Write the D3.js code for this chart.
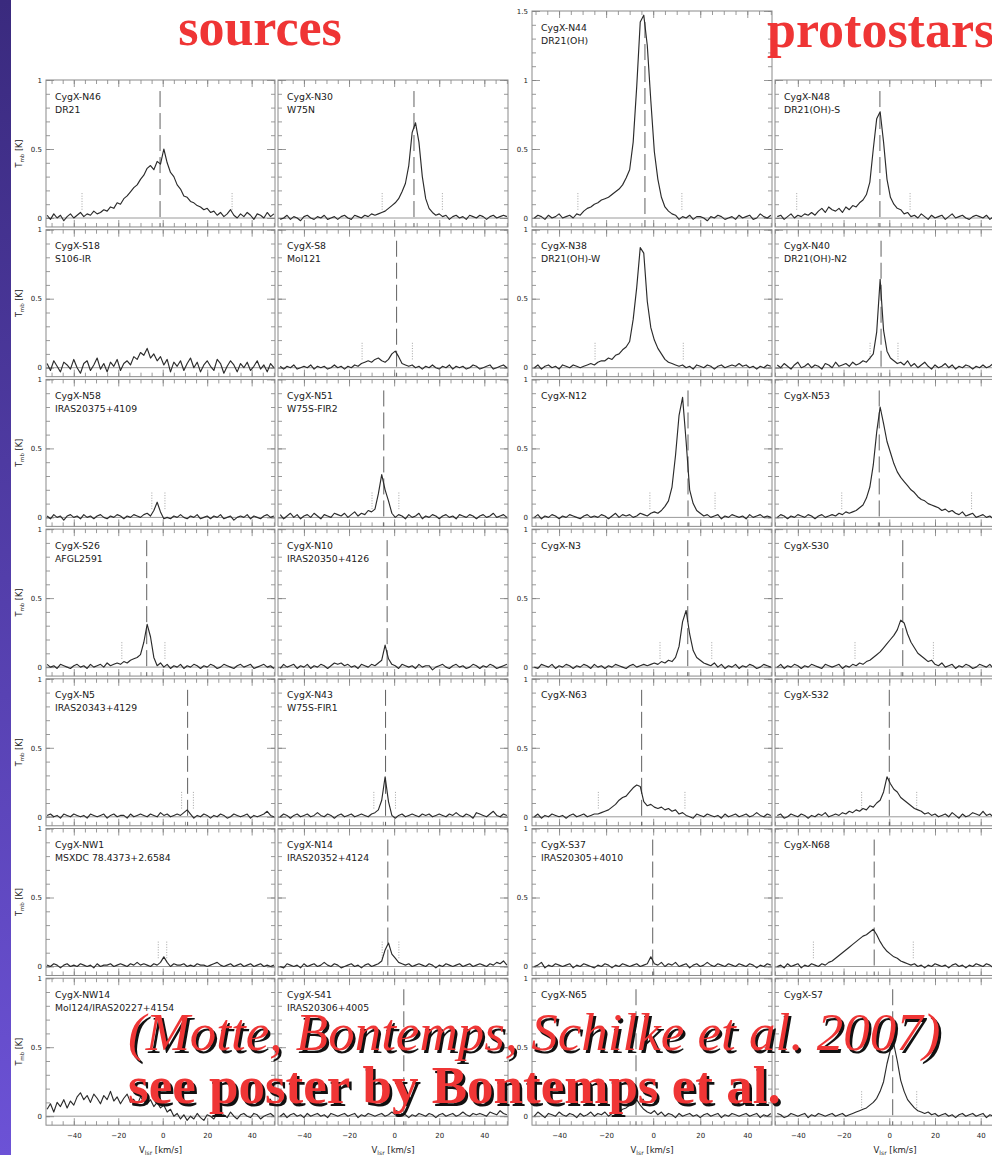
<!DOCTYPE html>
<html>
<head>
<meta charset="utf-8">
<script src="https://cdn.jsdelivr.net/npm/d3@7"></script>
<style>
  body { margin: 0; background: #fff; }
  svg { display: block; }
  .tk .domain, .lbl .domain { display: none; }
  .tk line { stroke: #808080; stroke-width: 0.8; }
  .lbl text { font-family: "DejaVu Sans", sans-serif; font-size: 7px; fill: #222; }
  .frame { fill: none; stroke: #8a8a8a; stroke-width: 1; }
  .zero { stroke: #9a9a9a; stroke-width: 1; }
  .spec { fill: none; stroke: #2b2b2b; stroke-width: 1.15; stroke-linejoin: round; }
  .vsys { stroke: #606060; stroke-width: 1; stroke-dasharray: 16 6; }
  .win { stroke: #9a9a9a; stroke-width: 0.9; stroke-dasharray: 1 1.6; }
  .plabel { font-family: "DejaVu Sans", sans-serif; font-size: 9.3px; fill: #1a1a1a; }
  .atitle { font-family: "DejaVu Sans", sans-serif; font-size: 8px; fill: #222; }
  .head { font-family: "Liberation Serif", "Times New Roman", serif; font-weight: bold; font-size: 52px; fill: #ef3535; }
  .cite { font-family: "Liberation Serif", "Times New Roman", serif; font-size: 53px; }
</style>
</head>
<body>
<svg id="chart" width="992" height="1155"></svg>
<script>
// Velocity channels (km/s) shared by every spectrum
const channels = [
  -52,-50.5,-49,-47.5,-46,-44.5,-43,-41.5,-40,-38.5,
  -37,-35.5,-34,-32.5,-31,-29.5,-28,-26.5,-25,-23.5,
  -22,-20.5,-19,-17.5,-16,-14.5,-13,-11.5,-10,-8.5,
  -7,-5.5,-4,-2.5,-1,0.5,2,3.5,5,6.5,
  8,9.5,11,12.5,14,15.5,17,18.5,20,21.5,
  23,24.5,26,27.5,29,30.5,32,33.5,35,36.5,
  38,39.5,41,42.5,44,45.5,47,48.5,50
];

// Main-beam temperatures (K), one value per channel
const N46 = [
  .02,-.01,.03,.00,.02,-.02,.01,.03,.00,.02,
  .04,.01,.03,.02,.05,.03,.04,.06,.05,.08,
  .07,.11,.10,.14,.16,.19,.22,.24,.28,.31,
  .36,.38,.35,.41,.39,.50,.40,.33,.30,.24,
  .21,.16,.15,.12,.11,.09,.08,.06,.07,.04,
  .05,.02,.04,.01,.03,.06,.02,.00,.03,.01,
  .04,.02,-.01,.03,.02,.00,.04,.01,.03];
const S18 = [
  .03,-.02,.05,.01,-.03,.04,.02,-.01,.06,.00,
  -.04,.03,.05,-.02,.02,.07,-.01,.03,-.03,.04,
  .01,.06,-.02,.03,.05,.02,.08,.06,.11,.09,
  .14,.07,.10,.05,.08,.02,.06,-.03,.04,.01,
  .05,-.02,.03,.07,.00,.04,-.03,.02,.05,.01,
  -.02,.06,.03,-.04,.01,.05,.02,-.03,.03,.00,
  .04,-.02,.01,.05,-.01,.02,-.03,.03,.00];
const N58 = [
  .01,-.01,.02,.00,.01,-.02,.01,.02,.00,.01,
  -.01,.02,.00,.01,-.01,.01,.02,.00,-.01,.01,
  .00,.02,.01,-.01,.01,.00,.02,.01,.00,.02,
  .03,.01,.05,.11,.04,-.01,.00,-.01,.01,.00,
  .02,.00,-.01,.01,.00,.02,-.01,.00,.01,-.01,
  .01,.00,.02,-.01,.00,.01,-.02,.00,.01,.00,
  .02,-.01,.01,.00,-.01,.01,.02,.00,.01];
const S26 = [
  .02,.00,.01,-.01,.02,.01,.00,-.01,.01,.02,
  .00,.01,-.01,.02,.00,.01,.02,.00,.03,.01,
  .02,.03,.02,.04,.03,.05,.06,.07,.09,.18,
  .31,.22,.07,.01,.03,.00,.02,-.01,.01,.00,
  .02,-.01,.01,.00,.02,.01,-.01,.01,.00,.02,
  .01,-.01,.00,.02,.01,.00,-.01,.01,.02,.00,
  .01,.02,-.01,.00,.01,.02,.00,.01,-.01];
const N5 = [
  .01,.02,.00,.01,-.01,.02,.01,.00,.02,.01,
  .00,.01,-.01,.02,.01,.00,.01,.02,-.01,.01,
  .02,.00,.01,.01,-.01,.02,.00,.01,.02,.01,
  .00,.02,.01,.00,.03,.01,.02,.00,.01,.02,
  .01,.03,.05,.02,-.01,.01,.00,.02,.01,-.01,
  .01,.00,.02,.01,-.01,.00,.02,.01,.00,.01,
  .02,-.01,.01,.00,.01,.02,.04,.01,.00];
const NW1 = [
  .01,.00,.02,.01,-.01,.01,.02,.00,.01,.00,
  .02,.01,.00,.01,-.01,.02,.00,.01,.01,.02,
  .00,.01,.02,.01,.00,.02,.01,.03,.01,.02,
  .01,.00,.02,.01,.03,.07,.03,.00,.02,.01,
  .01,.02,.00,.01,.00,.02,.01,.01,.00,.01,
  .02,.03,.01,.00,.01,.02,.00,.01,.02,.00,
  .01,.02,.00,.01,.02,.00,.01,.00,.01];
const NW14 = [
  .05,.09,.03,.10,.07,.12,.06,.11,.08,.14,
  .17,.12,.15,.10,.16,.13,.09,.15,.12,.18,
  .11,.14,.09,.13,.16,.10,.12,.08,.14,.11,
  .09,.12,.07,.10,.06,.08,.03,.05,.00,.02,
  -.02,.01,-.03,.00,-.02,.02,-.01,-.03,.01,.00,
  -.02,.02,.00,.01,-.01,.03,.00,-.02,.01,.02,
  .00,-.01,.02,.01,-.02,.00,.01,.02,.00];

const N30 = [
  .01,-.01,.00,.02,-.01,.01,.00,-.02,.01,.02,
  .00,-.01,.01,.00,.02,-.01,.00,.01,-.01,.01,
  .02,.00,-.01,.02,.01,.00,.02,.01,.03,.02,
  .03,.04,.05,.07,.09,.11,.14,.19,.25,.38,
  .62,.69,.55,.30,.14,.07,.04,.02,.03,.01,
  .02,-.01,.01,.02,.00,.01,-.01,.02,.01,.00,
  .02,.01,-.01,.01,.02,.00,.01,.02,.01];
const S8 = [
  .00,.01,-.01,.01,.00,.02,-.01,.00,.01,.00,
  .02,-.01,.01,.00,.01,-.01,.00,.02,.00,.01,
  -.01,.01,.00,.02,.01,.03,.04,.05,.04,.06,
  .07,.05,.04,.06,.10,.12,.08,.03,.02,.01,
  .02,.00,.01,-.01,.01,.00,.02,.00,-.01,.01,
  .00,.02,-.01,.01,.00,.01,-.01,.00,.02,.01,
  -.01,.00,.01,.02,-.01,.00,.01,.02,.00];
const N51 = [
  .01,.02,-.01,.01,.03,.00,.02,-.01,.01,.02,
  .00,.03,.01,-.01,.02,.01,.00,.03,.02,.01,
  .03,.00,.02,.04,.01,.03,.02,.05,.04,.06,
  .17,.31,.20,.12,.03,.00,.02,.01,-.01,.02,
  .00,.01,.03,-.01,.01,.00,.02,.01,-.01,.01,
  .02,.00,.01,-.01,.02,.01,.00,.02,.01,-.01,
  .01,.02,.00,.01,.03,.00,.01,.02,.00];
const N10 = [
  .01,-.01,.02,.00,.01,.02,-.01,.01,.00,.02,
  -.01,.01,.00,.02,.01,-.01,.01,.03,.02,.03,
  .01,.02,.00,.01,-.01,.02,.01,.00,.02,.01,
  .03,.05,.16,.06,.02,.01,-.01,.02,.01,.00,
  .01,-.01,.02,.00,.01,.01,-.02,.00,.01,.02,
  .00,-.01,.01,.02,.00,.01,-.01,.00,.02,.01,
  -.01,.01,.00,.02,.01,-.01,.00,.01,.02];
const N43 = [
  .01,.00,.02,.01,-.01,.01,.02,.00,.01,.02,
  .00,.01,.03,.01,.00,.02,.01,-.01,.01,.02,
  .00,.01,.02,.00,.01,.02,.01,.00,.02,.03,
  .05,.12,.29,.11,.01,-.01,.01,.02,.00,.01,
  .02,.01,.00,.02,.01,.02,.00,.01,.02,.01,
  .00,.02,.01,.03,.01,.00,.02,.01,-.01,.03,
  .02,.01,.00,.02,.04,.01,.00,.02,.01];
const N14 = [
  .01,.00,-.01,.02,.01,.00,.01,-.01,.02,.00,
  .01,.02,.00,.01,.03,.01,.00,.02,.01,-.01,
  .00,.01,.02,.00,.01,-.01,.01,.02,.00,.01,
  .02,.04,.12,.17,.09,.06,.03,.02,.01,.02,
  .00,.01,.02,.01,.00,.02,.01,-.01,.01,.00,
  .02,.01,.00,.01,.02,.00,.01,.02,.00,.01,
  .02,.01,.00,.02,.01,.03,.02,.04,.01];
const S41 = [
  .01,.00,.02,-.01,.01,.02,.00,.01,-.01,.02,
  .00,.01,.02,.00,.01,-.01,.02,.01,.00,.01,
  .02,.00,.01,.02,-.01,.01,.00,.02,.01,.00,
  .01,.02,.00,.01,.03,.01,.00,.02,.01,-.01,
  .01,.00,.02,.01,.00,.02,.01,-.01,.01,.02,
  .00,.01,.02,.00,.01,.03,.01,.00,.02,.01,
  .02,.01,.00,.03,.02,.01,.04,.02,.01];

const N44 = [
  .01,.00,.02,.01,-.01,.02,.00,.01,.03,.00,
  .01,.02,.00,.03,.02,.05,.07,.08,.10,.11,
  .13,.14,.15,.17,.19,.21,.24,.29,.35,.55,
  .95,1.42,1.47,1.25,.85,.48,.28,.15,.08,.05,
  .03,.02,-.01,.01,.00,.02,-.01,.01,.01,.00,
  -.02,.01,.00,.02,.01,-.01,.00,.01,-.01,.02,
  .00,.01,.02,-.01,.00,.03,.01,.00,.02];
const N38 = [
  .01,.00,.02,-.01,.01,.02,.00,.01,-.01,.02,
  .01,.00,.02,.01,.00,.01,.02,.03,.02,.04,
  .05,.05,.07,.06,.09,.10,.13,.15,.19,.35,
  .58,.87,.83,.48,.29,.20,.14,.10,.06,.04,
  .03,.02,.01,.02,.00,.01,-.01,.02,.01,.00,
  .02,.01,-.01,.01,.02,.00,.01,.02,.01,.03,
  .01,.02,.00,.01,-.01,.01,.00,.02,.01];
const N12 = [
  .01,.00,.02,-.01,.01,.00,.02,.01,-.01,.01,
  .00,.02,.01,.00,-.01,.01,.02,.00,.01,.00,
  .02,.01,-.01,.01,.03,.00,.02,.01,.02,.00,
  .01,.03,.02,.01,.03,.04,.03,.05,.08,.12,
  .22,.45,.74,.87,.55,.20,.10,.05,.03,.01,
  .02,.00,.01,.02,-.01,.01,.00,.02,.01,.00,
  .01,-.01,.02,.00,.01,.02,.00,.01,.00];
const N3 = [
  .01,.00,-.01,.02,.01,.00,.02,-.01,.01,.00,
  .02,.01,-.01,.01,.00,.02,.01,-.01,.02,.00,
  .01,-.01,.01,.00,.02,.01,.00,-.01,.01,.02,
  .00,.01,.02,.01,.02,.03,.02,.04,.03,.05,
  .04,.07,.15,.33,.41,.24,.12,.07,.05,.03,
  .02,.01,.03,.00,.02,-.01,.01,.00,.02,-.01,
  .01,.00,.02,.01,-.01,.00,.02,.01,.00];
const N63 = [
  .01,.00,.02,-.01,.01,.00,.02,.01,.00,.01,
  -.01,.01,.02,.00,.01,.02,.00,.01,.02,.02,
  .03,.04,.05,.07,.09,.12,.14,.15,.18,.21,
  .23,.22,.11,.08,.09,.07,.06,.07,.05,.06,
  .04,.05,.02,.03,.01,.00,-.01,.02,.01,.00,
  .02,.01,.00,.01,-.01,.02,.00,.01,.02,.00,
  .01,.02,.00,.01,.03,.01,.00,.02,.01];
const S37 = [
  .02,.00,.01,.03,-.01,.01,.00,.02,.01,.00,
  .01,.02,-.01,.01,.00,.02,.01,.00,-.01,.01,
  .00,.02,.01,-.01,.01,.00,.02,.01,.00,.01,
  .02,.00,.01,.02,.07,.02,.01,.03,.00,.02,
  .01,.03,.00,.01,.02,-.01,.01,.02,.00,.01,
  .03,.01,.00,.02,.01,.00,.02,.01,.00,.02,
  .01,.00,.02,.01,-.01,.01,.00,.02,.01];
const N65 = [
  .02,.00,.03,.01,-.01,.02,.01,.00,.03,.01,
  .00,.02,.01,-.01,.02,.00,.01,.03,.00,.02,
  .01,.03,.00,.02,.04,.03,.05,.06,.08,.10,
  .12,.08,.05,.03,.02,.04,.01,.03,.00,.02,
  .01,-.01,.02,.00,.01,.02,.00,.01,-.01,.01,
  .02,.00,.01,.02,-.01,.01,.00,.02,.01,.00,
  .01,.02,.00,.01,.02,-.01,.01,.00,.02];

const N48 = [
  .00,.01,.01,.02,-.01,.01,.03,.00,.02,.01,
  .03,.02,.04,.02,.05,.07,.04,.08,.06,.05,
  .07,.04,.08,.06,.09,.08,.11,.13,.17,.26,
  .50,.72,.77,.55,.28,.15,.10,.07,.06,.03,
  .04,.01,.02,.00,.03,.01,-.01,.02,.00,.01,
  .02,-.01,.01,.03,.00,.01,.02,.00,-.01,.01,
  .02,.01,.00,.02,-.01,.01,.00,.02,.01];
const N40 = [
  .01,.03,.02,.00,.03,.01,-.01,.02,.04,.00,
  .01,.03,.00,.02,.01,-.01,.03,.02,.00,.04,
  .01,.02,.03,.01,.04,.02,.03,.05,.04,.07,
  .10,.26,.64,.27,.12,.07,.05,.03,.04,.02,
  .05,.01,.03,.00,.02,.04,.01,-.01,.02,.00,
  .01,.03,.00,.02,-.01,.01,.00,.02,.01,-.01,
  .01,.00,.02,.00,.01,.03,-.01,.01,.00];
const N53 = [
  .01,.00,.00,.02,.01,-.01,.01,.00,.02,.01,
  .00,.02,.01,-.01,.01,.02,.00,.01,.02,.01,
  .03,.02,.04,.03,.04,.05,.07,.09,.14,.22,
  .38,.62,.80,.68,.55,.47,.39,.33,.29,.26,
  .23,.20,.18,.15,.13,.12,.10,.09,.08,.07,
  .05,.06,.04,.05,.03,.02,.04,.01,.02,.03,
  .00,.01,.02,.00,.01,-.01,.01,.00,.02];
const S30 = [
  .01,.02,.00,.02,-.01,.01,.00,.02,.01,-.01,
  .01,.00,.02,.01,.00,-.01,.02,.01,.00,.01,
  .02,-.01,.01,.00,.02,.01,.03,.02,.04,.05,
  .07,.09,.11,.14,.17,.20,.23,.27,.34,.32,
  .24,.18,.14,.10,.08,.06,.04,.05,.02,.01,
  .03,.00,.01,.02,-.01,.01,.00,.02,.01,-.01,
  .00,.02,.01,.00,.02,-.01,.01,.00,.02];
const S32 = [
  .02,.00,.01,.02,-.01,.00,.02,.01,.00,.02,
  .01,-.01,.01,.00,.02,.01,.03,.00,.01,.02,
  .01,.03,.02,.04,.03,.05,.04,.06,.05,.08,
  .07,.10,.12,.18,.29,.24,.20,.18,.14,.12,
  .10,.08,.06,.05,.04,.02,.03,.01,.02,.00,
  .01,.02,.00,.03,.01,-.01,.02,.00,.01,.03,
  .02,.01,.04,.01,.02,.00,.03,.01,.02];
const N68 = [
  .01,.00,.00,.01,-.01,.02,.00,.01,.02,-.01,
  .01,.00,.02,.01,.00,.02,.01,.03,.04,.06,
  .08,.10,.12,.14,.16,.18,.20,.22,.23,.25,
  .27,.23,.18,.14,.11,.09,.07,.06,.04,.03,
  .02,.01,.02,.00,.01,-.01,.01,.00,.02,.01,
  .00,.01,-.01,.01,.02,.00,.01,-.01,.01,.00,
  .02,.01,.00,.02,.01,-.01,.01,.02,.00];
const S7 = [
  .01,.00,.02,.01,-.01,.00,.02,.01,.00,.01,
  .02,-.01,.01,.00,.02,.01,.00,.01,.02,.00,
  .01,.02,.00,.01,.02,.03,.04,.05,.06,.08,
  .10,.13,.18,.25,.38,.48,.52,.40,.26,.18,
  .12,.09,.06,.04,.03,.02,.03,.01,.02,.00,
  .01,.02,.00,.01,-.01,.01,.02,.00,.01,.02,
  .00,.01,.02,-.01,.01,.00,.02,.01,.00];

// Source names, aliases, systemic velocities and integration windows per column (top to bottom)
const col1Names = ["CygX-N46","CygX-S18","CygX-N58","CygX-S26","CygX-N5","CygX-NW1","CygX-NW14"];
const col1Alias = ["DR21","S106-IR","IRAS20375+4109","AFGL2591","IRAS20343+4129","MSXDC 78.4373+2.6584","Mol124/IRAS20227+4154"];
const col1Vsys  = [-1.2, null, null, -7.2, 11.2, null, null];
const col1Win   = [[-36.3,31.2], null, [-4.9,1.0], [-18.4,1.0], [8.5,13.8], [-2,1.8], null];

const col2Names = ["CygX-N30","CygX-S8","CygX-N51","CygX-N10","CygX-N43","CygX-N14","CygX-S41"];
const col2Alias = ["W75N","Mol121","W75S-FIR2","IRAS20350+4126","W75S-FIR1","IRAS20352+4124","IRAS20306+4005"];
const col2Vsys  = [8.8, 1.1, -4.6, -3.1, -3.8, -2.8, 4.3];
const col2Win   = [[-5.3,21.4], [-14.2,8.1], [-9.8,2.1], null, [-9.0,0.6], [-5.3,2.1], null];

const col3Names = ["CygX-N44","CygX-N38","CygX-N12","CygX-N3","CygX-N63","CygX-S37","CygX-N65"];
const col3Alias = ["DR21(OH)","DR21(OH)-W","","","","IRAS20305+4010",""];
const col3Vsys  = [-3.5, null, 14.8, 14.7, -4.9, -0.2, -7.3];
const col3Win   = [[-32,12.2], [-24.7,12.8], [-1.4,26.3], [2.9,24.9], [-23.3,13.5], null, null];

const col4Names = ["CygX-N48","CygX-N40","CygX-N53","CygX-S30","CygX-S32","CygX-N68","CygX-S7"];
const col4Alias = ["DR21(OH)-S","DR21(OH)-N2","","","","",""];
const col4Vsys  = [-4.1, -3.6, -4.4, 5.9, 0.0, -6.6, 1.5];
const col4Win   = [[-40.5,9.1], [-8.4,3.8], [-20.8,36.0], [-15,19.3], [-12.1,12], [-33.2,10.5], [-12.1,12]];

// Velocity axis range of each column and the panel that needs a taller temperature axis
const velocityRanges = [[-52.5,50.5], [-51.5,50.5], [-51.5,50.5], [-50,55]];
const tallPanels = {"CygX-N44": 1.5};
const xTickLabels = [-40,-20,0,20,40];

const columns = [
  {names: col1Names, alias: col1Alias, vsys: col1Vsys, win: col1Win, spectra: [N46,S18,N58,S26,N5,NW1,NW14]},
  {names: col2Names, alias: col2Alias, vsys: col2Vsys, win: col2Win, spectra: [N30,S8,N51,N10,N43,N14,S41]},
  {names: col3Names, alias: col3Alias, vsys: col3Vsys, win: col3Win, spectra: [N44,N38,N12,N3,N63,S37,N65]},
  {names: col4Names, alias: col4Alias, vsys: col4Vsys, win: col4Win, spectra: [N48,N40,N53,S30,S32,N68,S7]}
];

const layout = {left: [46, 278, 532, 775], width: [229, 230, 240, 240],
                top0: 80, pitch: 149.7, pxPerK: 138, tMin: -0.065};

const svg = d3.select("#chart");

// Slide edge strip
const defs = svg.append("defs");
const grad = defs.append("linearGradient").attr("id", "strip")
  .attr("x1", 0).attr("y1", 0).attr("x2", 0).attr("y2", 1);
grad.append("stop").attr("offset", 0).attr("stop-color", "#3a2a7e");
grad.append("stop").attr("offset", 1).attr("stop-color", "#6c52d6");
svg.append("rect").attr("x", 0).attr("y", 0).attr("width", 11).attr("height", 1155).attr("fill", "url(#strip)");

function innerTicks(g, x, y, w, h, vRange, tMax) {
  const vMinor = d3.range(Math.ceil(vRange[0] / 5) * 5, vRange[1], 5);
  const vMajor = vMinor.filter(v => v % 20 === 0);
  const tMinor = d3.range(0, Math.round(tMax * 10) + 1).map(k => k / 10);
  const tMajor = tMinor.filter(t => Math.round(t * 10) % 5 === 0);
  [[vMinor, 4], [vMajor, 7]].forEach(([vals, len]) => {
    g.append("g").attr("class", "tk")
      .call(d3.axisBottom(x).tickValues(vals).tickSize(len).tickFormat(""));
    g.append("g").attr("class", "tk").attr("transform", `translate(0,${h})`)
      .call(d3.axisTop(x).tickValues(vals).tickSize(len).tickFormat(""));
  });
  [[tMinor, 4], [tMajor, 8]].forEach(([vals, len]) => {
    g.append("g").attr("class", "tk")
      .call(d3.axisRight(y).tickValues(vals).tickSize(len).tickFormat(""));
    g.append("g").attr("class", "tk").attr("transform", `translate(${w},0)`)
      .call(d3.axisLeft(y).tickValues(vals).tickSize(len).tickFormat(""));
  });
}

columns.forEach((col, c) => {
  const w = layout.width[c];
  const vRange = velocityRanges[c];
  const x = d3.scaleLinear().domain(vRange).range([0, w]);

  col.spectra.forEach((spec, r) => {
    const name = col.names[r];
    const tMax = tallPanels[name] || 1;
    const h = (tMax - layout.tMin) * layout.pxPerK;
    const top = layout.top0 + r * layout.pitch - (tMax - 1) * layout.pxPerK;
    const y = d3.scaleLinear().domain([layout.tMin, tMax]).range([h, 0]);
    const g = svg.append("g").attr("transform", `translate(${layout.left[c]},${top})`);

    // zero baseline
    g.append("line").attr("class", "zero")
      .attr("x1", 0).attr("x2", w).attr("y1", y(0)).attr("y2", y(0));

    innerTicks(g, x, y, w, h, vRange, tMax);
    g.append("rect").attr("class", "frame").attr("width", w).attr("height", h);

    // integration window markers
    const win = col.win[r];
    if (win) {
      g.selectAll("line.win").data(win).join("line").attr("class", "win")
        .attr("x1", d => x(d)).attr("x2", d => x(d))
        .attr("y1", y(0.06)).attr("y2", y(0.19));
    }

    // systemic velocity
    const vs = col.vsys[r];
    if (vs !== null) {
      g.append("line").attr("class", "vsys")
        .attr("x1", x(vs)).attr("x2", x(vs))
        .attr("y1", y(tMax - 0.08)).attr("y2", h);
    }

    // spectrum
    const pts = channels.map((v, i) => [v, spec[i]])
      .filter(p => p[1] !== undefined && p[0] >= vRange[0] && p[0] <= vRange[1]);
    g.append("path").datum(pts).attr("class", "spec")
      .attr("d", d3.line().x(p => x(p[0])).y(p => y(p[1])));

    // source labels
    g.append("text").attr("class", "plabel").attr("x", 9).attr("y", 19.5).text(name);
    if (col.alias[r]) {
      g.append("text").attr("class", "plabel").attr("x", 9).attr("y", 32.5).text(col.alias[r]);
    }

    // temperature tick labels on the first column of each block
    if (c === 0 || c === 2) {
      const tv = [0, 0.5, 1, 1.5].filter(t => t <= tMax + 1e-9);
      g.append("g").attr("class", "lbl")
        .call(d3.axisLeft(y).tickValues(tv).tickSize(0).tickPadding(4).tickFormat(d3.format("~g")));
    }
    if (c === 0) {
      const yt = g.append("text").attr("class", "atitle")
        .attr("text-anchor", "middle")
        .attr("transform", `translate(-24,${h / 2}) rotate(-90)`);
      yt.append("tspan").text("T");
      yt.append("tspan").attr("dy", 2).attr("font-size", "5.5px").text("mb");
      yt.append("tspan").attr("dy", -2).text(" [K]");
    }

    // velocity axis labels on the bottom row
    if (r === col.spectra.length - 1) {
      g.append("g").attr("class", "lbl").attr("transform", `translate(0,${h})`)
        .call(d3.axisBottom(x).tickValues(xTickLabels).tickSize(0).tickPadding(8).tickFormat(d3.format("d")));
      const xt = g.append("text").attr("class", "atitle")
        .attr("text-anchor", "middle").attr("x", w / 2).attr("y", h + 28)
        .style("font-size", "8.5px");
      xt.append("tspan").text("V");
      xt.append("tspan").attr("dy", 2).attr("font-size", "6px").text("lsr");
      xt.append("tspan").attr("dy", -2).text(" [km/s]");
    }
  });
});

// Block headings
svg.append("text").attr("class", "head").attr("x", 260).attr("y", 45)
  .attr("text-anchor", "middle").text("sources");
svg.append("text").attr("class", "head").attr("x", 767).attr("y", 47).text("protostars");

// Reference lines with drop shadow
const citeLines = [
  {text: "(Motte, Bontemps, Schilke et al. 2007)", y: 1050, style: "italic", weight: "normal"},
  {text: "see poster by Bontemps et al.", y: 1103, style: "normal", weight: "bold"}
];
citeLines.forEach(l => {
  [["#111", 2.5], ["#ef3535", 0]].forEach(([fill, off]) => {
    svg.append("text").attr("class", "cite")
      .attr("x", 128 + off).attr("y", l.y + off)
      .style("font-style", l.style).style("font-weight", l.weight)
      .attr("fill", fill).text(l.text);
  });
});
</script>
</body>
</html>
